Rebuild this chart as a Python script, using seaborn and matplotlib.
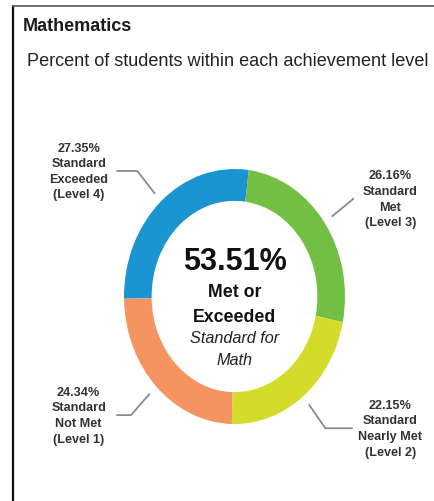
import numpy as np
import matplotlib.pyplot as plt
import seaborn as sns
from matplotlib.lines import Line2D

title = "Mathematics"
subtitle = "Percent of students within each achievement level"
percents = [27.35, 26.16, 22.15, 24.34]
label_lines = [
    ["Standard", "Exceeded", "(Level 4)"],
    ["Standard", "Met", "(Level 3)"],
    ["Standard", "Nearly Met", "(Level 2)"],
    ["Standard", "Not Met", "(Level 1)"],
]
colors = ["#1b95d2", "#72bf44", "#d3dc2b", "#f59460"]
met_or_exceeded = 53.51
center_lines = ["Met or", "Exceeded"]
center_italic = ["Standard for", "Math"]

# canvas / layout in pixels
W, H = 435, 502
CX, CY, RX, RY = 234.5, 297.5, 110.5, 127.5


def fy(px):
    return 1 - px / H


sns.set_theme(style="white")
plt.rcParams["font.family"] = ["Liberation Sans", "DejaVu Sans"]

fig = plt.figure(figsize=(W / 100, H / 100), dpi=100)
fig.patch.set_facecolor("white")
ax = fig.add_axes([0, 0, 1, 1])

wedges, _ = ax.pie(
    percents,
    colors=sns.color_palette(colors),
    startangle=181,
    counterclock=False,
    radius=1,
    wedgeprops=dict(width=0.25, linewidth=0),
)
ax.set_aspect("auto")
ax.set_xlim(-CX / RX, (W - CX) / RX)
ax.set_ylim(-(H - CY) / RY, CY / RY)
ax.axis("off")

# leader lines and labels
for w, pct, lines in zip(wedges, percents, label_lines):
    ang = np.deg2rad((w.theta1 + w.theta2) / 2)
    c, s = np.cos(ang), np.sin(ang)
    side = np.sign(c)
    ex, ey = 1.32 * c, 1.32 * s
    lx = side * 1.41
    ax.plot([1.08 * c, ex, lx - side * 0.34], [1.08 * s, ey, ey],
            color="#8a8a8a", lw=1.3, solid_capstyle="butt")
    ax.text(lx, ey, f"{pct:.2f}%\n" + "\n".join(lines), ha="center", va="center",
            fontsize=9.1, fontweight="bold", color="#333333", linespacing=1.4)

# centre text
fig.text(CX / W, fy(270), f"{met_or_exceeded:.2f}%", ha="center", va="baseline",
         fontsize=22, fontweight="bold", color="#111111")
for txt, base in zip(center_lines, [297, 322]):
    fig.text(CX / W, fy(base), txt, ha="center", va="baseline",
             fontsize=12.8, fontweight="bold", color="#111111")
for txt, base in zip(center_italic, [343, 365]):
    fig.text(CX / W, fy(base), txt, ha="center", va="baseline",
             fontsize=11.7, style="italic", color="#222222")

# header
fig.text(23 / W, fy(31), title, ha="left", va="baseline",
         fontsize=13, fontweight="bold", color="#1a1a1a")
fig.text(27 / W, fy(66), subtitle, ha="left", va="baseline",
         fontsize=13.1, color="#222222")

# frame
fig.add_artist(Line2D([13 / W, 13 / W], [0, fy(7)], color="#111111", lw=1.6,
                      transform=fig.transFigure))
fig.add_artist(Line2D([13 / W, 1], [fy(7), fy(7)], color="#666666", lw=1.3,
                      transform=fig.transFigure))

fig.savefig("out.png", dpi=100)
plt.close(fig)
